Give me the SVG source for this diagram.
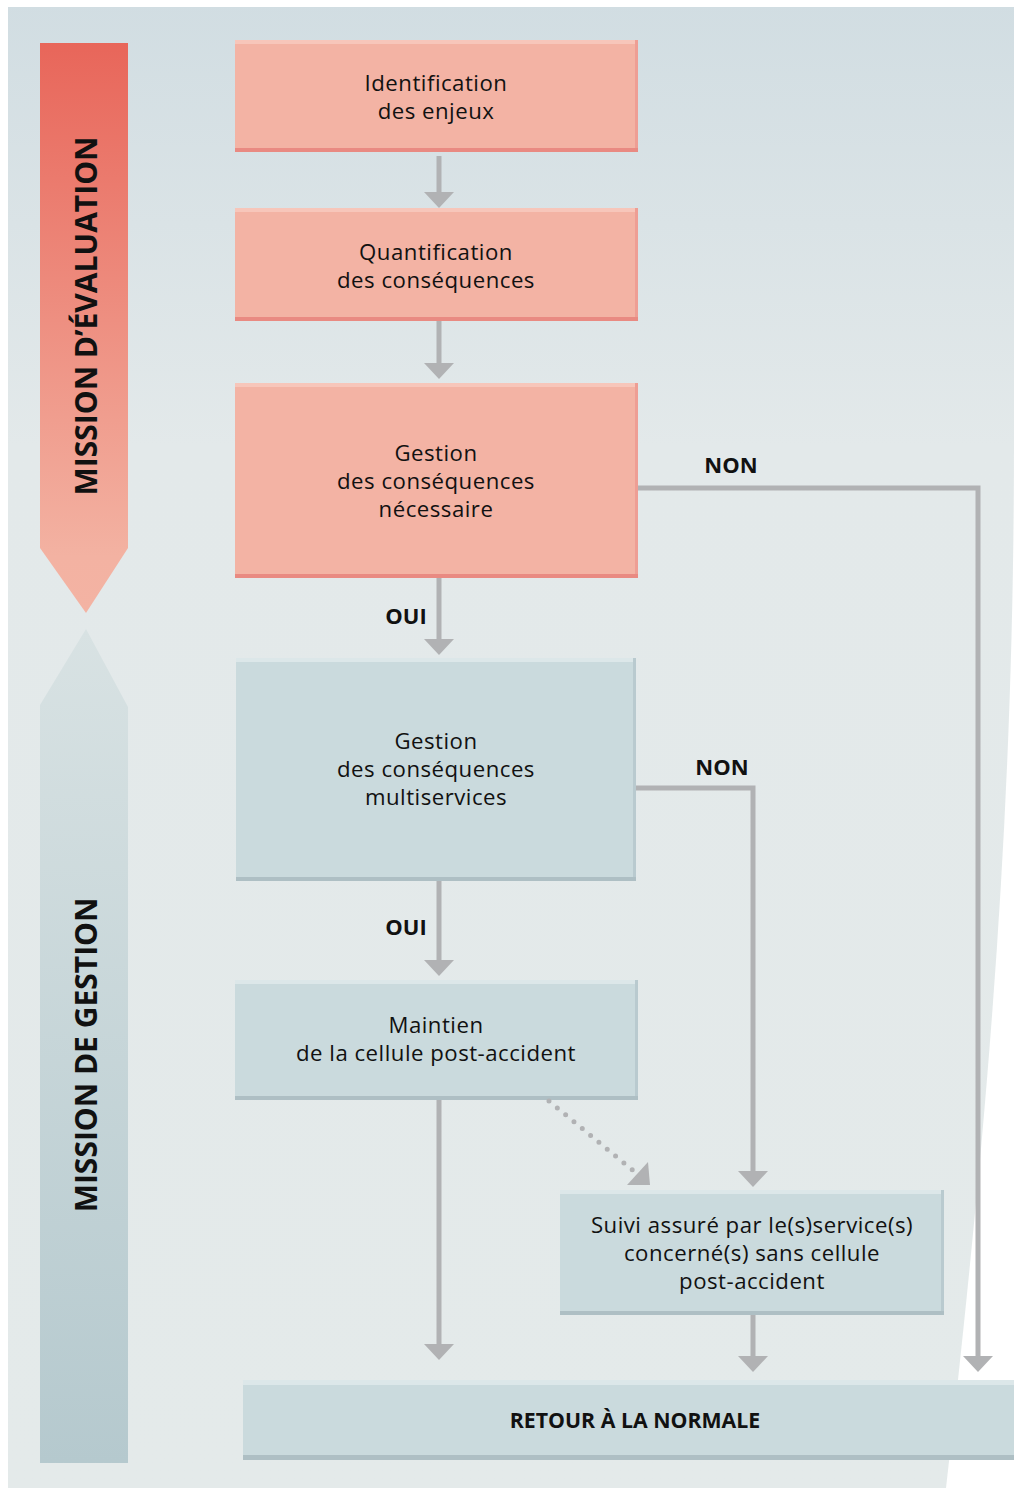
<svg xmlns="http://www.w3.org/2000/svg" width="1014" height="1488" viewBox="0 0 1014 1488">
  <defs>
    <linearGradient id="bg" x1="0" y1="0" x2="0" y2="1488" gradientUnits="userSpaceOnUse">
      <stop offset="0" stop-color="#d1dde2"/>
      <stop offset="0.3" stop-color="#e3e9ea"/>
      <stop offset="1" stop-color="#e4eaea"/>
    </linearGradient>
    <linearGradient id="gEval" x1="0" y1="43" x2="0" y2="613" gradientUnits="userSpaceOnUse">
      <stop offset="0" stop-color="#e8665a"/>
      <stop offset="0.9" stop-color="#f3b2a2"/>
      <stop offset="1" stop-color="#f3b3a3"/>
    </linearGradient>
    <linearGradient id="gGest" x1="0" y1="629" x2="0" y2="1463" gradientUnits="userSpaceOnUse">
      <stop offset="0" stop-color="#d8e2e3"/>
      <stop offset="1" stop-color="#b5c9ce"/>
    </linearGradient>
    <marker id="ah" markerUnits="userSpaceOnUse" markerWidth="16" markerHeight="30" viewBox="0 -15 16 30" refX="0" refY="0" orient="auto">
      <path d="M0,-15 L16,0 L0,15 Z" fill="#b1b2b4"/>
    </marker>
    <style>
      .pink { fill: #f3b3a4; }
      .pinkTop { fill: #f7c6ba; }
      .pinkBot { fill: #e98a82; }
      .pinkSide { fill: #ee9e94; }
      .blue { fill: #cadadd; }
      .blueTop { fill: #dce7e9; }
      .blueBot { fill: #aebfc4; }
      .blueSide { fill: #b9cacf; }
      .t { font-family: "Open Sans", "Noto Sans", sans-serif; font-size: 22.2px; letter-spacing: 0.5px; fill: #111; text-anchor: middle; }
      .b { font-family: "Open Sans", "Noto Sans", sans-serif; font-size: 22px; font-weight: bold; fill: #111; text-anchor: middle; }
      .r { font-family: "Open Sans", "Noto Sans", sans-serif; font-size: 21.3px; font-weight: bold; fill: #111; text-anchor: middle; }
      .band { font-family: "Open Sans", "Noto Sans", sans-serif; font-size: 30px; font-weight: bold; fill: #111; text-anchor: middle; }
      .conn { fill: none; stroke: #b1b2b4; stroke-width: 5; }
      .dots { fill: none; stroke: #b1b2b4; stroke-width: 5; stroke-linecap: round; stroke-dasharray: 0 10.8; }
    </style>
  </defs>

  <!-- background panel -->
  <rect x="0" y="0" width="1014" height="1488" fill="#ffffff"/>
  <path d="M8,7 H1014 V440 C1014,800 990,1100 946,1488 H8 Z" fill="url(#bg)"/>

  <!-- left bands -->
  <g id="band-evaluation">
    <polygon points="40,43 128,43 128,548 86,613 40,548" fill="url(#gEval)"/>
    <text class="band" transform="translate(97,316) rotate(-90)">MISSION D’ÉVALUATION</text>
  </g>
  <g id="band-gestion">
    <polygon points="86,629 128,707 128,1463 40,1463 40,705" fill="url(#gGest)"/>
    <text class="band" transform="translate(97,1055) rotate(-90)">MISSION DE GESTION</text>
  </g>

  <!-- nodes -->
  <g id="n-identification">
    <rect class="pink" x="235" y="40" width="403" height="112"/>
    <rect class="pinkTop" x="235" y="40" width="403" height="4"/>
    <rect class="pinkSide" x="635" y="40" width="3" height="112"/>
    <rect class="pinkBot" x="235" y="148" width="403" height="4"/>
    <text class="t" x="436" y="91">Identification</text>
    <text class="t" x="436" y="119">des enjeux</text>
  </g>
  <g id="n-quantification">
    <rect class="pink" x="235" y="208" width="403" height="113"/>
    <rect class="pinkTop" x="235" y="208" width="403" height="4"/>
    <rect class="pinkSide" x="635" y="208" width="3" height="113"/>
    <rect class="pinkBot" x="235" y="317" width="403" height="4"/>
    <text class="t" x="436" y="260">Quantification</text>
    <text class="t" x="436" y="288">des conséquences</text>
  </g>
  <g id="n-gestion-necessaire">
    <rect class="pink" x="235" y="383" width="403" height="195"/>
    <rect class="pinkTop" x="235" y="383" width="403" height="4"/>
    <rect class="pinkSide" x="635" y="383" width="3" height="195"/>
    <rect class="pinkBot" x="235" y="574" width="403" height="4"/>
    <text class="t" x="436" y="461">Gestion</text>
    <text class="t" x="436" y="489">des conséquences</text>
    <text class="t" x="436" y="517">nécessaire</text>
  </g>
  <g id="n-gestion-multiservices">
    <rect class="blue" x="236" y="658" width="400" height="223"/>
    <rect class="blueTop" x="236" y="658" width="400" height="4"/>
    <rect class="blueSide" x="633" y="658" width="3" height="223"/>
    <rect class="blueBot" x="236" y="877" width="400" height="4"/>
    <text class="t" x="436" y="749">Gestion</text>
    <text class="t" x="436" y="777">des conséquences</text>
    <text class="t" x="436" y="805">multiservices</text>
  </g>
  <g id="n-maintien">
    <rect class="blue" x="235" y="980" width="403" height="120"/>
    <rect class="blueTop" x="235" y="980" width="403" height="4"/>
    <rect class="blueSide" x="635" y="980" width="3" height="120"/>
    <rect class="blueBot" x="235" y="1096" width="403" height="4"/>
    <text class="t" x="436" y="1033">Maintien</text>
    <text class="t" x="436" y="1061">de la cellule post-accident</text>
  </g>
  <g id="n-suivi">
    <rect class="blue" x="560" y="1190" width="384" height="125"/>
    <rect class="blueTop" x="560" y="1190" width="384" height="4"/>
    <rect class="blueSide" x="941" y="1190" width="3" height="125"/>
    <rect class="blueBot" x="560" y="1311" width="384" height="4"/>
    <text class="t" x="752" y="1233">Suivi assuré par le(s)service(s)</text>
    <text class="t" x="752" y="1261">concerné(s) sans cellule</text>
    <text class="t" x="752" y="1289">post-accident</text>
  </g>
  <g id="n-retour">
    <rect class="blue" x="243" y="1380" width="771" height="80"/>
    <rect class="blueTop" x="243" y="1380" width="771" height="5"/>
    <rect class="blueBot" x="243" y="1455" width="771" height="5"/>
    <text class="r" x="635" y="1428">RETOUR À LA NORMALE</text>
  </g>

  <!-- connectors -->
  <g id="connectors">
    <path class="conn" d="M439,156 V192" marker-end="url(#ah)"/>
    <path class="conn" d="M439,321 V363" marker-end="url(#ah)"/>
    <path class="conn" d="M439,578 V639" marker-end="url(#ah)"/>
    <path class="conn" d="M439,881 V960" marker-end="url(#ah)"/>
    <path class="conn" d="M439,1100 V1344" marker-end="url(#ah)"/>
    <path class="conn" d="M638,488 H978 V1356" marker-end="url(#ah)"/>
    <path class="conn" d="M636,788 H753 V1171" marker-end="url(#ah)"/>
    <path class="conn" d="M753,1315 V1356" marker-end="url(#ah)"/>
    <path class="dots" d="M549,1101 L636,1173"/>
    <polygon points="648,1162 627,1185 650,1185" fill="#b1b2b4"/>
    <text class="b" x="731" y="473">NON</text>
    <text class="b" x="722" y="775">NON</text>
    <text class="b" x="406" y="624">OUI</text>
    <text class="b" x="406" y="935">OUI</text>
  </g>
</svg>
